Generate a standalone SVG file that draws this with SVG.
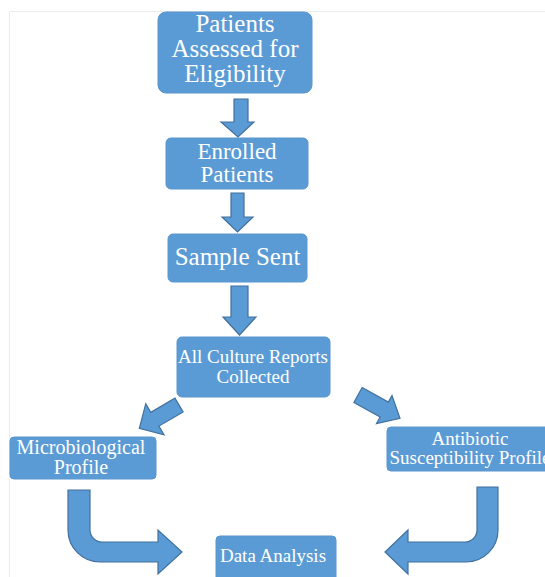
<svg xmlns="http://www.w3.org/2000/svg" width="545" height="577" viewBox="0 0 545 577">
<style>
.box{fill:#5b9bd5;stroke:#5a96cc;stroke-width:1}
.arr{fill:#5b9bd5;stroke:#41719c;stroke-width:1.2;stroke-linejoin:miter}
.t{font-family:"Liberation Serif","Times New Roman",serif;fill:#ffffff;text-anchor:middle}
.frame{fill:none;stroke:#ececec;stroke-width:1}
</style>
<rect width="545" height="577" fill="#ffffff"/>
<path class="frame" d="M9.5,577 V11.5 H545"/>

<g id="connectors">
  <path class="arr" d="M234,99 H248 V122 H254 L238,137 L221,122 H234 Z"/>
  <path class="arr" d="M231,193 H244 V217 H253 L237.5,232 L222,217 H231 Z"/>
  <path class="arr" d="M231,286 H248 V317 H256 L239.5,335 L223,317 H231 Z"/>
  <path class="arr" transform="translate(179,405) rotate(149.5)" d="M0,-8 H28 V-18 L46,0 L28,18 V8 H0 Z"/>
  <path class="arr" transform="translate(358,395) rotate(29)" d="M0,-8.5 H30 V-16 L48,0 L30,16 V8.5 H0 Z"/>
  <path class="arr" d="M68,490 H90 V530 A12,12 0 0 0 102,542 H158 V530 L182,552 L158,574 V562 H100 A32,32 0 0 1 68,530 Z"/>
  <path class="arr" d="M498,487 V530 A32,32 0 0 1 466,562 H408 V574 L385,552 L408,530 V542 H465 A12,12 0 0 0 477,530 V487 Z"/>
</g>

<g id="node-eligibility">
  <rect class="box" x="158" y="12" width="154" height="81" rx="8"/>
  <text class="t" font-size="25"><tspan x="235" y="32">Patients</tspan><tspan x="235" y="57">Assessed for</tspan><tspan x="235" y="82">Eligibility</tspan></text>
</g>
<g id="node-enrolled">
  <rect class="box" x="166" y="138" width="142" height="51" rx="5"/>
  <text class="t" font-size="23"><tspan x="237" y="159">Enrolled</tspan><tspan x="237" y="182">Patients</tspan></text>
</g>
<g id="node-sample">
  <rect class="box" x="168" y="234" width="139" height="48" rx="5"/>
  <text class="t" font-size="25" x="237.5" y="265">Sample Sent</text>
</g>
<g id="node-culture">
  <rect class="box" x="177" y="337" width="153" height="60" rx="5"/>
  <text class="t" font-size="19"><tspan x="253" y="363">All Culture Reports</tspan><tspan x="253" y="383">Collected</tspan></text>
</g>
<g id="node-micro">
  <rect class="box" x="10" y="437" width="146" height="42" rx="4"/>
  <text class="t" font-size="20"><tspan x="81" y="454">Microbiological</tspan><tspan x="81" y="474">Profile</tspan></text>
</g>
<g id="node-antibiotic">
  <rect class="box" x="387" y="427" width="172" height="44" rx="4"/>
  <text class="t" font-size="19"><tspan x="470" y="445">Antibiotic</tspan><tspan x="470" y="464">Susceptibility Profile</tspan></text>
</g>
<g id="node-analysis">
  <rect class="box" x="216" y="536" width="120" height="50" rx="4"/>
  <text class="t" font-size="19" x="273" y="562">Data Analysis</text>
</g>
</svg>
